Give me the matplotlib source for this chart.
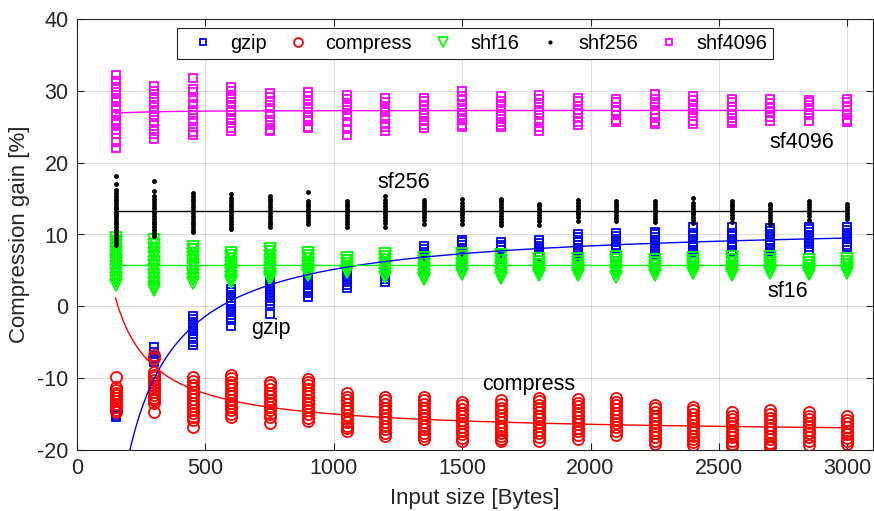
import matplotlib
matplotlib.use("Agg")
import matplotlib.pyplot as plt
import numpy as np

plt.rcParams['font.family'] = ['Liberation Sans', 'DejaVu Sans']
plt.rcParams['axes.unicode_minus'] = False

# input sizes in bytes
sizes = [150, 300, 450, 600, 750, 900, 1050, 1200, 1350, 1500,
         1650, 1800, 1950, 2100, 2250, 2400, 2550, 2700, 2850, 3000]

# measured compression gain [%] per input size
gzip = [
    [-15.4, -15.1],
    [-5.6, -6.3, -7.0, -7.4, -7.8],
    [-1.4, -1.8, -2.2, -2.6, -3.0, -3.4, -3.8, -4.2, -4.6, -5.0, -5.4],
    [2.4, 2.0, 1.6, 1.2, 0.8, 0.4, 0.0, -0.4, -0.8, -1.2, -1.6, -1.9, -2.7],
    [4.0, 3.6, 3.2, 2.8, 2.4, 2.0, 1.6, 1.2, 0.8, 0.3, -1.0],
    [4.2, 3.8, 3.4, 3.0, 2.6, 2.2, 1.8, 1.3],
    [4.6, 4.2, 3.8, 3.4, 3.0, 2.5],
    [5.8, 5.4, 5.0, 4.6, 4.2, 3.8, 3.4],
    [8.4, 8.0, 7.6, 7.2, 6.8, 6.4, 6.0, 5.5, 5.0],
    [9.3, 8.9, 8.5, 8.1, 7.7, 7.3, 6.9, 6.5, 6.0, 5.5],
    [9.0, 8.6, 8.2, 7.8, 7.4, 7.0, 6.6, 6.2, 5.8],
    [9.2, 8.8, 8.4, 8.0, 7.6, 7.2, 6.8, 6.5],
    [10.1, 9.7, 9.3, 8.9, 8.5, 8.1, 7.7, 7.3, 6.9, 6.5],
    [10.2, 9.8, 9.4, 9.0, 8.6, 8.2, 7.8, 7.4, 7.0],
    [10.4, 10.0, 9.6, 9.2, 8.8, 8.4, 8.0, 7.6, 7.1],
    [11.0, 10.2, 9.8, 9.4, 9.0, 8.6, 8.2, 7.8, 7.5],
    [11.0, 10.2, 9.8, 9.4, 9.0, 8.6, 8.2, 7.9, 7.6],
    [10.9, 10.5, 10.1, 9.7, 9.3, 8.9, 8.5, 8.1, 7.5],
    [11.1, 10.7, 10.3, 9.9, 9.5, 9.1, 8.7, 8.3, 7.9],
    [11.0, 10.6, 10.2, 9.8, 9.4, 9.0, 8.6, 8.2],
]

compress = [
    [-9.9, -11.2, -11.6, -12.0, -12.4, -12.8, -13.2, -13.6, -14.0, -14.4, -14.7],
    [-6.8, -7.2, -9.1, -9.5, -9.9, -10.3, -10.7, -11.1, -11.5, -11.9, -12.3, -12.7, -13.1, -13.5, -14.7],
    [-9.9, -10.4, -10.9, -11.4, -11.9, -12.4, -12.9, -13.4, -13.9, -14.4, -14.9, -15.4, -15.8, -16.8],
    [-9.6, -10.0, -10.5, -11.0, -11.5, -12.0, -12.5, -13.0, -13.5, -14.0, -14.5, -15.0, -15.4],
    [-10.5, -11.0, -11.5, -12.0, -12.5, -13.0, -13.5, -14.0, -14.5, -15.0, -15.4, -16.3],
    [-10.1, -10.5, -11.0, -11.5, -12.0, -12.5, -13.0, -13.5, -14.0, -14.5, -15.0, -15.5, -16.0],
    [-12.1, -12.6, -13.1, -13.6, -14.1, -14.6, -15.1, -15.6, -16.1, -16.6, -17.0, -17.4],
    [-12.6, -13.1, -13.6, -14.1, -14.6, -15.1, -15.6, -16.1, -16.6, -17.1, -17.6, -18.1],
    [-12.6, -13.1, -13.6, -14.1, -14.6, -15.1, -15.6, -16.1, -16.6, -17.1, -17.6, -18.0, -18.4],
    [-13.3, -13.8, -14.3, -14.8, -15.3, -15.8, -16.3, -16.8, -17.3, -17.8, -18.3, -18.7],
    [-13.1, -13.6, -14.1, -14.6, -15.1, -15.6, -16.1, -16.6, -17.1, -17.6, -18.1, -18.5, -18.8],
    [-12.7, -13.2, -13.7, -14.2, -14.7, -15.2, -15.7, -16.2, -16.7, -17.2, -17.7, -18.2, -18.7],
    [-12.9, -13.4, -13.9, -14.4, -14.9, -15.4, -15.9, -16.4, -16.9, -17.4, -17.9, -18.4],
    [-12.8, -13.3, -13.8, -14.3, -14.8, -15.3, -15.8, -16.3, -16.8, -17.3, -17.9],
    [-13.7, -14.2, -14.7, -15.2, -15.7, -16.2, -16.7, -17.2, -17.7, -18.2, -18.7, -19.1],
    [-14.0, -14.5, -15.0, -15.5, -16.0, -16.5, -17.0, -17.5, -18.0, -18.5, -18.9, -19.3],
    [-14.7, -15.2, -15.7, -16.2, -16.7, -17.2, -17.7, -18.2, -18.7, -19.1, -19.5],
    [-14.5, -15.0, -15.5, -16.0, -16.5, -17.0, -17.5, -18.0, -18.5, -19.0, -19.3, -19.6],
    [-14.7, -15.2, -15.7, -16.2, -16.7, -17.2, -17.7, -18.2, -18.7, -19.3],
    [-15.3, -15.8, -16.3, -16.8, -17.3, -17.8, -18.3, -18.8, -19.2],
]

shf16 = [
    [9.5, 9.0, 8.5, 8.0, 7.5, 7.0, 6.5, 6.0, 5.5, 5.0, 4.5, 4.0, 3.5, 3.0],
    [9.3, 8.6, 8.0, 7.4, 6.8, 6.2, 5.6, 5.0, 4.4, 3.8, 3.2, 2.7, 2.3],
    [8.3, 7.8, 7.3, 6.8, 6.3, 5.8, 5.3, 4.8, 4.3, 3.8, 3.3],
    [7.4, 7.0, 6.6, 6.1, 5.6, 5.1, 4.6, 4.1, 3.7, 3.4],
    [8.0, 7.5, 7.0, 6.5, 6.0, 5.5, 5.0, 4.5, 4.1, 3.8],
    [7.4, 7.0, 6.6, 6.1, 5.6, 5.1, 4.7, 4.4],
    [6.7, 6.3, 5.9, 5.5, 5.1, 4.8],
    [7.3, 6.9, 6.5, 6.0, 5.5, 5.0, 4.5, 4.1],
    [6.7, 6.3, 5.9, 5.4, 4.9, 4.4, 4.0, 3.8],
    [7.3, 6.9, 6.4, 5.9, 5.4, 4.9, 4.5],
    [7.2, 6.8, 6.3, 5.8, 5.3, 4.8, 4.3, 3.9],
    [6.6, 6.2, 5.8, 5.4, 5.0, 4.7, 4.4],
    [6.6, 6.2, 5.8, 5.4, 5.0, 4.7, 4.4],
    [6.9, 6.5, 6.1, 5.6, 5.1, 4.6, 4.1],
    [6.4, 6.0, 5.6, 5.2, 4.8, 4.4],
    [6.7, 6.3, 5.9, 5.5, 5.1, 4.7],
    [6.8, 6.4, 6.0, 5.5, 5.0, 4.6, 4.3],
    [6.9, 6.5, 6.1, 5.6, 5.1, 4.6],
    [6.4, 6.0, 5.6, 5.2, 4.8, 4.5],
    [6.6, 6.2, 5.8, 5.4, 5.0, 4.7],
]

shf256 = [
    [18.2, 17.0, 16.2, 15.8, 15.4, 15.0, 14.6, 14.2, 13.8, 13.5, 13.2, 12.9, 12.6,
     12.2, 11.8, 11.4, 11.0, 10.6, 10.2, 9.8, 9.4, 9.0, 8.5],
    [17.4, 16.1, 15.3, 14.9, 14.5, 14.1, 13.7, 13.3, 13.0, 12.6, 12.2, 11.8, 11.4,
     11.0, 10.6, 10.2, 9.8],
    [15.8, 15.4, 15.0, 14.6, 14.2, 13.8, 13.4, 13.0, 12.6, 12.2, 11.8, 11.4, 11.0, 10.6, 10.3],
    [15.6, 15.1, 14.7, 14.3, 13.9, 13.5, 13.1, 12.7, 12.3, 11.9, 11.5, 11.1, 10.7],
    [15.4, 15.0, 14.6, 14.2, 13.8, 13.4, 13.0, 12.6, 12.2, 11.8, 11.4, 11.0],
    [15.9, 14.7, 14.3, 13.9, 13.5, 13.1, 12.7, 12.3, 11.9, 11.4],
    [14.7, 14.3, 13.9, 13.5, 13.1, 12.7, 12.3, 11.9, 11.5, 11.1],
    [15.4, 14.8, 14.4, 14.0, 13.6, 13.2, 12.8, 12.4, 12.0, 11.6, 11.0],
    [14.8, 14.4, 14.0, 13.6, 13.2, 12.8, 12.4, 12.0, 11.5],
    [15.0, 14.4, 14.0, 13.6, 13.2, 12.8, 12.4, 12.0, 11.5],
    [15.0, 14.6, 14.2, 13.8, 13.4, 13.0, 12.6, 12.2, 11.8, 11.3],
    [14.3, 13.9, 13.5, 13.1, 12.7, 12.3, 11.9, 11.3],
    [14.8, 14.4, 14.0, 13.6, 13.2, 12.8, 12.4, 11.9],
    [14.7, 14.3, 13.9, 13.5, 13.1, 12.7, 12.3, 11.9],
    [14.6, 14.2, 13.8, 13.4, 13.0, 12.6, 12.2, 11.8],
    [15.1, 14.4, 14.0, 13.6, 13.2, 12.8, 12.4, 12.0, 11.6],
    [14.7, 14.3, 13.9, 13.5, 13.1, 12.7, 12.3, 11.8],
    [14.3, 13.9, 13.5, 13.1, 12.7, 12.3, 11.9, 11.5],
    [14.6, 14.2, 13.8, 13.4, 13.0, 12.6, 12.0],
    [14.2, 13.8, 13.4, 13.0, 12.6, 12.1],
]

shf4096 = [
    [32.2, 31.3, 30.6, 29.8, 29.0, 28.4, 27.6, 26.8, 26.0, 25.4, 24.6, 24.0, 22.9, 22.1],
    [30.7, 30.0, 29.2, 28.4, 27.8, 27.1, 26.3, 25.5, 24.7, 24.0, 23.3],
    [31.8, 30.3, 29.8, 29.0, 28.2, 27.4, 26.6, 25.8, 25.0, 24.2, 23.8],
    [30.6, 30.0, 29.2, 28.5, 27.8, 27.0, 26.2, 25.5, 24.8, 24.4],
    [29.7, 29.2, 28.5, 27.6, 26.8, 26.0, 25.2, 24.6, 24.4],
    [29.8, 29.3, 28.6, 27.8, 27.1, 26.4, 25.8, 25.0, 24.8],
    [29.4, 28.8, 28.0, 27.3, 26.5, 25.6, 24.7, 23.9],
    [29.0, 28.4, 27.6, 27.0, 26.2, 25.4, 24.9, 24.4],
    [29.0, 28.6, 28.0, 27.3, 26.6, 25.8, 25.2, 24.8],
    [30.0, 29.3, 28.7, 28.0, 27.3, 26.7, 26.0, 25.2, 24.9],
    [29.3, 28.6, 27.9, 27.2, 26.5, 25.6, 25.3, 25.0],
    [29.4, 28.8, 28.2, 27.3, 26.6, 25.8, 25.0, 24.4],
    [29.0, 28.6, 27.9, 27.4, 26.9, 26.2, 25.6, 25.3],
    [28.8, 28.4, 27.8, 27.2, 26.6, 26.0, 25.6],
    [29.5, 28.9, 28.2, 27.4, 26.8, 26.2, 25.7, 25.4],
    [29.3, 28.7, 28.0, 27.3, 26.5, 25.8, 25.4],
    [28.9, 28.4, 27.8, 27.3, 26.8, 26.2, 25.8, 25.5],
    [28.9, 28.3, 27.6, 27.0, 26.4, 25.8],
    [28.7, 28.4, 28.0, 27.4, 26.6, 25.8],
    [28.9, 28.5, 27.9, 27.3, 26.7, 26.0, 25.6],
]

# model curves: gain = a + b / size
fit_params = {
    'gzip': (11.68, -6530.0),
    'compress': (-17.85, 2852.0),
    'shf16': (5.8, 0.0),
    'shf256': (13.25, 0.0),
    'shf4096': (27.3, -65.0),
}

series = [
    ('gzip', gzip, 'b', 's', 6.0),
    ('compress', compress, 'r', 'o', 8.0),
    ('shf16', shf16, 'lime', 'v', 9.0),
    ('shf256', shf256, 'k', '.', 5.0),
    ('shf4096', shf4096, 'magenta', 's', 6.0),
]


def flatten(groups):
    xs, ys = [], []
    for s, vals in zip(sizes, groups):
        xs += [s] * len(vals)
        ys += vals
    return xs, ys


fig = plt.figure(figsize=(8.74, 5.11), dpi=100)
ax = fig.add_axes([77 / 874, 1 - 450 / 511, 796 / 874, 431 / 511])

handles = []
for name, groups, color, marker, ms in series:
    xs, ys = flatten(groups)
    if marker == '.':
        h, = ax.plot(xs, ys, linestyle='none', marker=marker, color=color,
                     markersize=ms, label=name)
    else:
        h, = ax.plot(xs, ys, linestyle='none', marker=marker, markersize=ms,
                     markerfacecolor='none', markeredgecolor=color,
                     markeredgewidth=1.3, label=name)
    handles.append(h)

xfit = np.linspace(sizes[0], sizes[-1], 400)
for name, groups, color, marker, ms in series:
    a, b = fit_params[name]
    ax.plot(xfit, a + b / xfit, color=color, linewidth=1.0)

# curve labels
txt = dict(fontsize=15.5, ha='center', va='center', color='k')
ax.text(2824, 22.8, 'sf4096', **txt)
ax.text(1271, 17.2, 'sf256', **txt)
ax.text(2769, 2.0, 'sf16', **txt)
ax.text(755, -3.1, 'gzip', **txt)
ax.text(1759, -10.9, 'compress', **txt)

ax.set_xlim(0, 3100)
ax.set_ylim(-20, 40)
ax.set_xticks(range(0, 3001, 500))
ax.set_yticks(range(-20, 41, 10))
ax.grid(True, color='#262626', alpha=0.15, linewidth=0.8)
ax.set_axisbelow(True)
ax.tick_params(direction='in', length=5, width=0.8, top=True, right=True,
               labelsize=15.5, colors='#262626', pad=6)
for sp in ax.spines.values():
    sp.set_color('#262626')
    sp.set_linewidth(0.8)

ax.set_xlabel('Input size [Bytes]', fontsize=16, color='#262626')
ax.set_ylabel('Compression gain [%]', fontsize=16, color='#262626')
ax.xaxis.set_label_coords(0.5, -0.089)
ax.yaxis.set_label_coords(-0.059, 0.5)

leg = ax.legend(handles=handles, loc='upper center', bbox_to_anchor=(0.5, 0.979),
                ncol=5, fontsize=14.3, frameon=True, fancybox=False,
                handlelength=2.0, handletextpad=0.4, columnspacing=0.55,
                borderpad=0.3, borderaxespad=0, markerscale=0.8)
leg.get_frame().set_edgecolor('#262626')
leg.get_frame().set_linewidth(0.8)
leg.get_frame().set_alpha(1)

fig.savefig('out.png', dpi=100)
